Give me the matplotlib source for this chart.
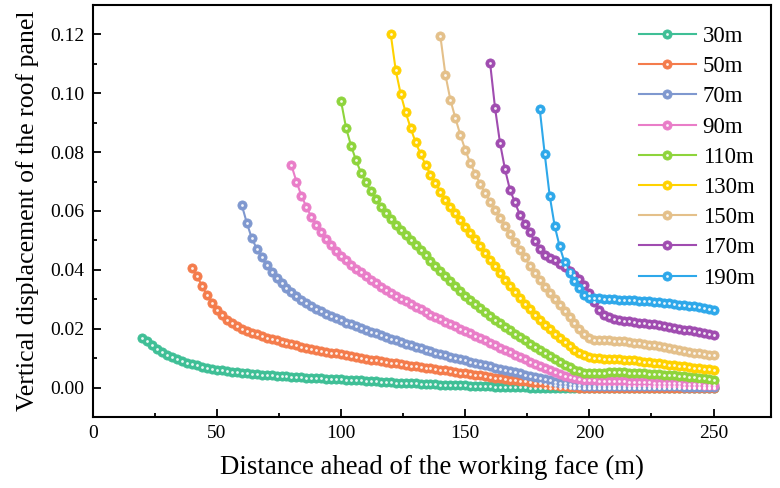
# Vertical displacement of the roof panel ahead of the working face
import numpy as np
import matplotlib
matplotlib.use("Agg")
import matplotlib.pyplot as plt
from matplotlib.ticker import MultipleLocator

# ---------------- data ----------------
LABELS = ["30m", "50m", "70m", "90m", "110m", "130m", "150m", "170m", "190m"]
COLORS = ["#3fbf96", "#f47c4c", "#7f98cf", "#e97dc8", "#8ed43c",
          "#ffd200", "#e4c08a", "#a04cb0", "#2ea8ea"]
STARTS = [20, 40, 60, 80, 100, 120, 140, 160, 180]   # first x of each series, step 2 m
X_END = 250

d30 = [0.0170, 0.0157, 0.0144, 0.0132, 0.0121, 0.0112, 0.0104, 0.0097, 0.0091, 0.0085, 0.0080,
       0.0075, 0.0071, 0.0067, 0.0064, 0.0061, 0.0058, 0.0056, 0.0054, 0.0052, 0.0050,
       0.0048, 0.0047, 0.0045, 0.0044, 0.0042, 0.0041, 0.0040, 0.0039, 0.0038, 0.0037,
       0.0036, 0.0035, 0.0034, 0.0033, 0.0032, 0.0031, 0.0030, 0.0029, 0.0028, 0.0028,
       0.0027, 0.0026, 0.0025, 0.0024, 0.0023, 0.0022, 0.0021, 0.0020, 0.0019, 0.0018,
       0.0017, 0.0017, 0.0016, 0.0015, 0.0014, 0.0013, 0.0013, 0.0012, 0.0011, 0.0010,
       0.0010, 0.0009, 0.0008, 0.0008, 0.0007, 0.0006, 0.0005, 0.0005, 0.0004, 0.0004,
       0.0003, 0.0003, 0.0002, 0.0002, 0.0001, 0.0001, 0.0001, 0.0000, 0.0000, 0.0000,
       -0.0001, -0.0001, -0.0001, -0.0001, -0.0001, -0.0001, -0.0001, -0.0001, -0.0001, -0.0001,
       -0.0001, -0.0001, -0.0001, -0.0002, -0.0002, -0.0002, -0.0002, -0.0002, -0.0002, -0.0002,
       -0.0002, -0.0002, -0.0002, -0.0002, -0.0002, -0.0002, -0.0002, -0.0002, -0.0002, -0.0002,
       -0.0002, -0.0002, -0.0002, -0.0002, -0.0002]

d50 = [0.0405, 0.0378, 0.0345, 0.0314, 0.0287, 0.0264, 0.0245, 0.0230, 0.0218, 0.0208,
       0.0200, 0.0193, 0.0187, 0.0181, 0.0175, 0.0170, 0.0165, 0.0160, 0.0155, 0.0151,
       0.0147, 0.0143, 0.0139, 0.0135, 0.0132, 0.0128, 0.0125, 0.0122, 0.0119, 0.0116,
       0.0113, 0.0110, 0.0107, 0.0104, 0.0101, 0.0098, 0.0095, 0.0092, 0.0089, 0.0087,
       0.0084, 0.0082, 0.0079, 0.0077, 0.0074, 0.0072, 0.0069, 0.0067, 0.0065, 0.0062,
       0.0060, 0.0058, 0.0055, 0.0053, 0.0051, 0.0048, 0.0046, 0.0044, 0.0041, 0.0039,
       0.0037, 0.0034, 0.0032, 0.0030, 0.0027, 0.0025, 0.0023, 0.0021, 0.0018, 0.0016,
       0.0014, 0.0012, 0.0010, 0.0008, 0.0006, 0.0004, 0.0002, 0.0001, 0.0000, -0.0001,
       -0.0002,
       -0.0002, -0.0002, -0.0002, -0.0002, -0.0002, -0.0002, -0.0002, -0.0002, -0.0002, -0.0002,
       -0.0003, -0.0003, -0.0003, -0.0003, -0.0003, -0.0003, -0.0003, -0.0003, -0.0003, -0.0003,
       -0.0003, -0.0003, -0.0003, -0.0003, -0.0003]

d70 = [0.0620, 0.0560, 0.0508, 0.0472, 0.0442, 0.0415, 0.0392, 0.0372, 0.0354, 0.0338,
       0.0324, 0.0311, 0.0299, 0.0288, 0.0278, 0.0268, 0.0259, 0.0250, 0.0242, 0.0235,
       0.0228, 0.0221, 0.0215, 0.0208, 0.0202, 0.0196, 0.0190, 0.0184, 0.0178, 0.0172,
       0.0166, 0.0161, 0.0155, 0.0149, 0.0144, 0.0139, 0.0133, 0.0128, 0.0123, 0.0118,
       0.0113, 0.0109, 0.0104, 0.0100, 0.0096, 0.0092, 0.0088, 0.0084, 0.0080, 0.0076,
       0.0072, 0.0068, 0.0064, 0.0060, 0.0056, 0.0052, 0.0048, 0.0044, 0.0040, 0.0036,
       0.0032, 0.0028, 0.0024, 0.0020, 0.0017, 0.0014, 0.0011, 0.0009, 0.0007, 0.0006,
       0.0005,
       0.0005, 0.0005, 0.0006, 0.0006, 0.0006, 0.0006, 0.0006, 0.0005, 0.0005, 0.0005,
       0.0005, 0.0005, 0.0004, 0.0004, 0.0004, 0.0004, 0.0004, 0.0004, 0.0003, 0.0003,
       0.0003, 0.0003, 0.0003, 0.0003, 0.0003]

d90 = [0.0755, 0.0700, 0.0652, 0.0614, 0.0580, 0.0552, 0.0527, 0.0504, 0.0483, 0.0465,
       0.0448, 0.0433, 0.0418, 0.0404, 0.0391, 0.0378, 0.0366, 0.0354, 0.0343, 0.0332,
       0.0322, 0.0312, 0.0302, 0.0293, 0.0284, 0.0275, 0.0266, 0.0257, 0.0248, 0.0240,
       0.0232, 0.0224, 0.0216, 0.0208, 0.0200, 0.0192, 0.0184, 0.0176, 0.0168, 0.0160,
       0.0152, 0.0144, 0.0136, 0.0128, 0.0120, 0.0112, 0.0104, 0.0096, 0.0088, 0.0080,
       0.0073, 0.0066, 0.0059, 0.0052, 0.0046, 0.0040, 0.0035, 0.0031, 0.0028, 0.0026,
       0.0025,
       0.0024, 0.0023, 0.0023, 0.0022, 0.0022, 0.0021, 0.0021, 0.0020, 0.0020, 0.0019,
       0.0019, 0.0018, 0.0017, 0.0017, 0.0016, 0.0015, 0.0015, 0.0014, 0.0013, 0.0013,
       0.0012, 0.0011, 0.0010, 0.0009, 0.0008]

d110 = [0.0972, 0.0882, 0.0822, 0.0772, 0.0730, 0.0697, 0.0668, 0.0640, 0.0615, 0.0592,
        0.0572, 0.0553, 0.0535, 0.0518, 0.0501, 0.0485, 0.0467, 0.0449, 0.0431, 0.0413,
        0.0395, 0.0378, 0.0361, 0.0344, 0.0327, 0.0311, 0.0297, 0.0283, 0.0269, 0.0255,
        0.0242, 0.0230, 0.0218, 0.0206, 0.0194, 0.0182, 0.0171, 0.0160, 0.0149, 0.0138,
        0.0128, 0.0118, 0.0108, 0.0098, 0.0088, 0.0078, 0.0069, 0.0061, 0.0055, 0.0051,
        0.0049,
        0.0049, 0.0050, 0.0051, 0.0052, 0.0052, 0.0052, 0.0052, 0.0051, 0.0050, 0.0049,
        0.0048, 0.0047, 0.0046, 0.0045, 0.0044, 0.0042, 0.0041, 0.0039, 0.0038, 0.0036,
        0.0035, 0.0033, 0.0031, 0.0029, 0.0027]

d130 = [0.1200, 0.1078, 0.0997, 0.0935, 0.0882, 0.0833, 0.0794, 0.0757, 0.0723, 0.0694,
        0.0666, 0.0638, 0.0615, 0.0592, 0.0570, 0.0547, 0.0525, 0.0503, 0.0481, 0.0458,
        0.0435, 0.0412, 0.0389, 0.0366, 0.0344, 0.0323, 0.0303, 0.0284, 0.0266, 0.0248,
        0.0231, 0.0214, 0.0198, 0.0183, 0.0168, 0.0154, 0.0141, 0.0129, 0.0118, 0.0110,
        0.0104,
        0.0101, 0.0099, 0.0098, 0.0097, 0.0097, 0.0096, 0.0095, 0.0094, 0.0092, 0.0090,
        0.0088, 0.0086, 0.0084, 0.0082, 0.0080, 0.0078, 0.0076, 0.0074, 0.0072, 0.0070,
        0.0068, 0.0066, 0.0064, 0.0062, 0.0060]

d150 = [0.1193, 0.1063, 0.0978, 0.0916, 0.0859, 0.0808, 0.0763, 0.0727, 0.0692, 0.0661,
        0.0632, 0.0604, 0.0576, 0.0548, 0.0520, 0.0494, 0.0468, 0.0443, 0.0413, 0.0389,
        0.0366, 0.0343, 0.0321, 0.0300, 0.0280, 0.0260, 0.0240, 0.0220, 0.0200, 0.0181,
        0.0168,
        0.0163, 0.0161, 0.0160, 0.0160, 0.0159, 0.0158, 0.0157, 0.0155, 0.0153, 0.0151,
        0.0149, 0.0146, 0.0143, 0.0140, 0.0137, 0.0134, 0.0131, 0.0128, 0.0125, 0.0122,
        0.0119, 0.0116, 0.0113, 0.0111, 0.0109]

d170 = [0.1103, 0.0950, 0.0831, 0.0742, 0.0672, 0.0629, 0.0587, 0.0556, 0.0527, 0.0497,
        0.0470, 0.0450, 0.0440, 0.0432, 0.0420, 0.0408, 0.0396, 0.0384, 0.0370, 0.0350,
        0.0322, 0.0290, 0.0265, 0.0248, 0.0238, 0.0232, 0.0229, 0.0227, 0.0225, 0.0223,
        0.0221, 0.0219, 0.0217, 0.0215, 0.0212, 0.0209, 0.0206, 0.0203, 0.0200, 0.0197,
        0.0194, 0.0191, 0.0188, 0.0185, 0.0182, 0.0179]

d190 = [0.0946, 0.0794, 0.0652, 0.0550, 0.0480, 0.0425, 0.0390, 0.0362, 0.0338, 0.0315,
        0.0304, 0.0303, 0.0303, 0.0302, 0.0301, 0.0300, 0.0299, 0.0298, 0.0297, 0.0296,
        0.0295, 0.0294, 0.0293, 0.0292, 0.0290, 0.0288, 0.0286, 0.0284, 0.0282, 0.0280,
        0.0278, 0.0276, 0.0274, 0.0271, 0.0268, 0.0265]

SERIES = [d30, d50, d70, d90, d110, d130, d150, d170, d190]

# ---------------- plot ----------------
plt.rcParams["font.family"] = ["Liberation Serif", "DejaVu Serif"]

fig = plt.figure(figsize=(7.8, 4.88), dpi=100)
ax = fig.add_axes([0.119, 0.1455, 0.869, 0.8445])

handles = []
for start, ys, col, lab in zip(STARTS, SERIES, COLORS, LABELS):
    xs = np.arange(start, X_END + 1, 2)[:len(ys)]
    line, = ax.plot(xs, ys, "-o", color=col, lw=1.5, ms=6.6,
                    mfc=col, mec=col, mew=0.6, zorder=2)
    shine, = ax.plot(xs, ys, "o", ls="none", ms=2.0, color="white",
                     mec="none", alpha=0.9, zorder=3)
    handles.append((line, shine))

ax.set_xlim(0, 273)
ax.set_ylim(-0.01, 0.13)
ax.xaxis.set_major_locator(MultipleLocator(50))
ax.xaxis.set_minor_locator(MultipleLocator(25))
ax.yaxis.set_major_locator(MultipleLocator(0.02))
ax.yaxis.set_minor_locator(MultipleLocator(0.01))
ax.yaxis.set_major_formatter(plt.FuncFormatter(lambda v, p: f"{v:.2f}"))

ax.tick_params(which="both", direction="in", top=False, right=False,
               labelsize=14, width=1.3)
ax.tick_params(which="major", length=5.5, pad=6)
ax.tick_params(which="minor", length=3)
for s in ax.spines.values():
    s.set_linewidth(1.5)

ax.set_xlabel("Distance ahead of the working face (m)", fontsize=19.3, labelpad=9)
ax.set_ylabel("Vertical displacement of the roof panel", fontsize=18.5, labelpad=8)

ax.legend(handles, LABELS, loc="upper right", frameon=False, fontsize=16.5,
          handlelength=2.5, handletextpad=0.3, labelspacing=0.4,
          borderaxespad=0.3, bbox_to_anchor=(1.0, 0.988))

fig.savefig("out.png", dpi=100)
